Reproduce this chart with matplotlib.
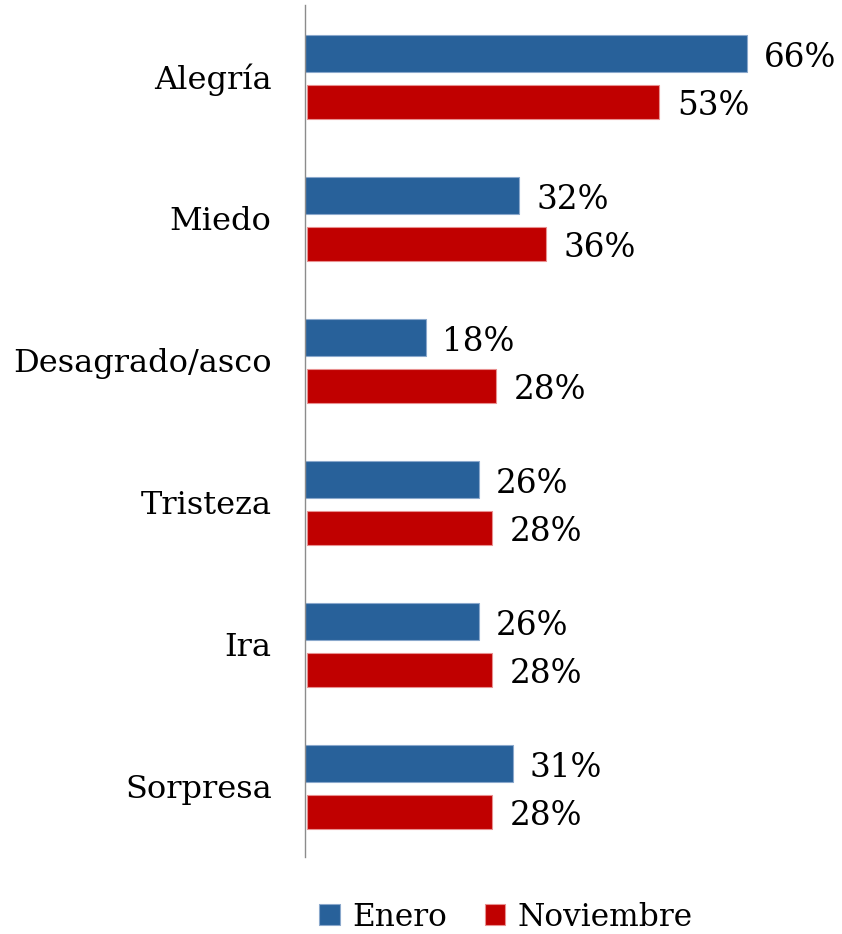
import numpy as np
import matplotlib.pyplot as plt

# data
categorias = ['Alegría', 'Miedo', 'Desagrado/asco', 'Tristeza', 'Ira', 'Sorpresa']
enero = [66, 32, 18, 26, 26, 31]
noviembre = [52.6, 35.6, 28.2, 27.6, 27.6, 27.6]
series = ['Enero', 'Noviembre']

azul = '#28619a'
rojo = '#c00000'

plt.rcParams['font.family'] = ['DejaVu Serif']

fig = plt.figure(figsize=(8.42, 9.34), dpi=100)
ax = fig.add_axes([305/842, 1-857/934, 536/842, 852/934])

y = np.arange(len(categorias))
b1 = ax.barh(y - 0.16, enero, height=0.26, color=azul, edgecolor='#8aa8cc',
             linewidth=0.8, label=series[0])
b2 = ax.barh(y + 0.18, noviembre, height=0.24, left=0.3, color=rojo,
             edgecolor='#e89090', linewidth=0.8, label=series[1])

for i in range(len(categorias)):
    ax.text(enero[i] + 2.5, y[i] - 0.13, f"{enero[i]:.0f}%", va='center',
            ha='left', fontsize=23.5)
    ax.text(noviembre[i] + 3.0, y[i] + 0.21, f"{noviembre[i]:.0f}%", va='center',
            ha='left', fontsize=23.5)

ax.set_xlim(0, 80)
ax.set_ylim(len(categorias) - 0.5, -0.5)
ax.set_yticks(y)
ax.set_yticklabels(categorias, fontsize=23)
ax.tick_params(axis='y', length=0, pad=24)
ax.set_xticks([])
for s in ['top', 'right', 'bottom']:
    ax.spines[s].set_visible(False)
ax.spines['left'].set_color('#8c8c8c')
ax.spines['left'].set_linewidth(1)

fig.legend(handles=[b1, b2], labels=series, loc='center', bbox_to_anchor=(506/842, 1-917/934),
           ncol=2, frameon=False, fontsize=22.5, handlelength=0.65, handleheight=0.65,
           handletextpad=0.4, columnspacing=1.2)

fig.savefig('out.png', dpi=100)
